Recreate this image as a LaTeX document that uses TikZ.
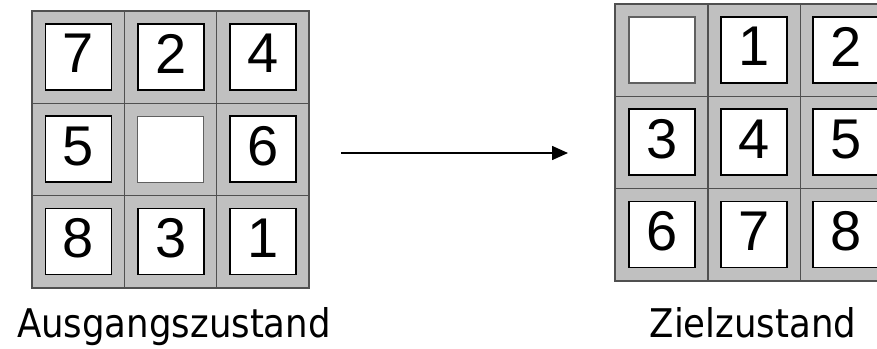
\documentclass[tikz,border=0pt]{standalone}
\usepackage{fontspec}
\newfontfamily\digitfont{Liberation Sans}
\newfontfamily\labelfont{DejaVu Sans Condensed}
\usetikzlibrary{arrows.meta}
\definecolor{tilegray}{HTML}{C0C0C0}
\definecolor{gridline}{HTML}{505050}
\definecolor{blankline}{HTML}{606060}
\begin{document}
\begin{tikzpicture}[x=1pt,y=-1pt,
  cell/.style={draw=gridline, fill=tilegray, minimum size=92.2pt, inner sep=0pt, line width=1.2pt},
  tile/.style={draw=black, fill=white, minimum size=66pt, inner sep=0pt, line width=1.8pt,
    font=\digitfont\fontsize{56}{56}\selectfont, text depth=7pt},
  blank/.style={draw=blankline, fill=white, minimum size=66pt, inner sep=0pt, line width=1.6pt},
  frame/.style={draw=gridline, line width=1.6pt},
  statetext/.style={font=\labelfont\fontsize{39.5}{41}\selectfont, anchor=base, inner sep=0pt},
  arrowline/.style={line width=1.5pt, -{Triangle[length=16pt,width=14pt]}}]
\useasboundingbox (0,0) rectangle (877,348);
\clip (0,0) rectangle (877,348);
% left grid
\foreach \n [count=\i from 0] in {7,2,4,5,0,6,8,3,1}{
  \pgfmathtruncatemacro\c{mod(\i,3)}
  \pgfmathtruncatemacro\r{div(\i,3)}
  \node[cell] (L\i) at ({32.3+92.2*(\c+0.5)},{11+92.2*(\r+0.5)}) {};
  \ifnum\n=0 \node[blank] (LT\i) at (L\i) {};\else\node[tile] (LT\i) at (L\i) {\n};\fi
}
\draw[frame] (L0.north west) rectangle (L8.south east);
% right grid
\foreach \n [count=\i from 0] in {0,1,2,3,4,5,6,7,8}{
  \pgfmathtruncatemacro\c{mod(\i,3)}
  \pgfmathtruncatemacro\r{div(\i,3)}
  \node[cell] (R\i) at ({615.8+92.2*(\c+0.5)},{4+92.2*(\r+0.5)}) {};
  \ifnum\n=0 \node[blank] (RT\i) at (R\i) {};\else\node[tile] (RT\i) at (R\i) {\n};\fi
}
\draw[frame] (R0.north west) rectangle (R8.south east);
% arrow
\coordinate (a1) at (341,153);
\coordinate (a2) at (568,153);
\draw[arrowline] (a1) -- (a2);
% labels
\node[statetext] (ls) at (174,337) {Ausgangszustand};
\node[statetext] (zs) at (753,337) {Zielzustand};
\end{tikzpicture}
\end{document}
